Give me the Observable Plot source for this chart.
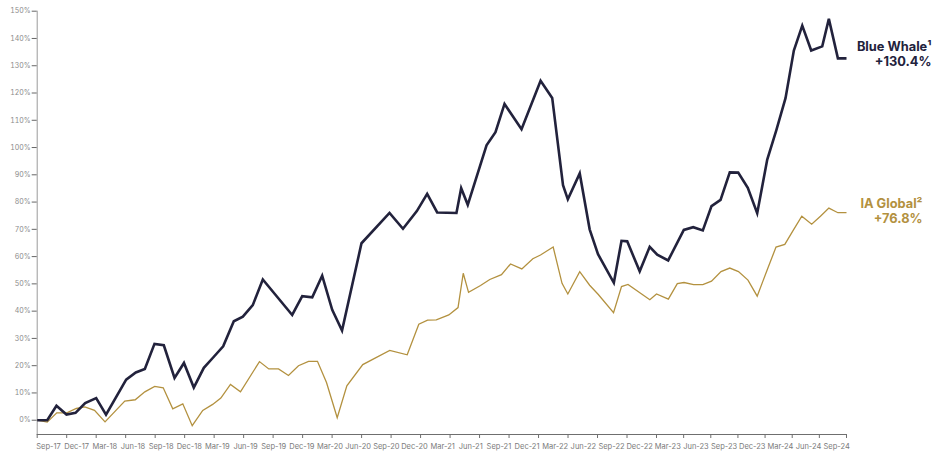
<!DOCTYPE html>
<html>
<head>
<meta charset="utf-8">
<script src="https://cdn.jsdelivr.net/npm/d3@7"></script>
<script src="https://cdn.jsdelivr.net/npm/@observablehq/plot@0.6"></script>
<style>
  html, body { margin: 0; padding: 0; background: #fff; overflow: hidden; }
  #chart svg { display: block; }
</style>
</head>
<body>
<div id="chart"></div>
<script>
// x tick labels (quarterly)
const tickLabels = ["Sep-17","Dec-17","Mar-18","Jun-18","Sep-18","Dec-18","Mar-19","Jun-19","Sep-19","Dec-19",
  "Mar-20","Jun-20","Sep-20","Dec-20","Mar-21","Jun-21","Sep-21","Dec-21","Mar-22","Jun-22",
  "Sep-22","Dec-22","Mar-23","Jun-23","Sep-23","Dec-23","Mar-24","Jun-24","Sep-24"];
// y ticks (%)
const yTicks = [0,10,20,30,40,50,60,70,80,90,100,110,120,130,140,150];

// series names and final returns
const seriesNames = ["Blue Whale¹", "IA Global²"];
const seriesReturns = ["+130.4%", "+76.8%"];

// Blue Whale: time in months since Sep-17, cumulative return (%)
const blueT = [0,1.02,1.96,2.98,3.90,4.88,6.00,7.00,9.05,10.03,10.95,11.93,12.88,13.97,14.93,15.93,16.95,17.90,18.92,20.00,
  20.92,21.93,22.95,25.94,26.96,27.98,28.99,30.01,31.01,32.99,35.84,37.21,38.62,39.67,40.69,42.65,43.13,43.80,45.71,46.62,
  47.54,49.27,51.21,52.39,53.49,53.98,55.19,56.20,57.05,58.66,59.44,60.02,61.29,62.31,63.08,64.29,66.02,67.06,68.12,69.08,
  70.08,71.10,72.03,73.09,74.13,75.24,76.23,77.26,78.18,79.11,80.10,81.32,82.05,83.05,84.00];
const blueV = [0,0,5.3,2.1,2.7,6.3,8.1,2.0,14.9,17.5,18.8,28.0,27.5,15.5,21.0,12.0,19.2,23.0,27.1,36.3,
  38.0,42.2,51.6,38.6,45.5,45.1,53.0,40.5,32.9,64.9,76.0,70.2,76.7,83.0,76.2,76.0,85.1,79.0,100.8,105.6,
  116.0,106.7,124.5,118.2,86.2,81.0,90.5,70.0,60.9,50.4,65.8,65.6,54.6,63.6,60.7,58.6,69.8,70.8,69.6,78.5,
  80.8,90.9,90.8,85.2,75.9,95.6,106.2,118.1,135.6,144.7,135.6,137.1,147.2,132.7,132.7];

// IA Global sector: time in months since Sep-17, cumulative return (%)
const goldT = [0,1.02,1.99,3.01,3.98,4.84,5.83,6.90,8.91,9.97,10.95,11.95,12.82,13.79,14.81,15.77,16.84,17.85,18.68,19.66,
  20.68,22.61,23.56,24.55,25.56,26.58,27.60,28.51,29.43,30.52,31.50,33.12,35.86,37.64,38.82,39.71,40.60,41.87,42.81,43.34,
  43.88,45.10,46.04,47.23,48.15,49.30,50.42,51.20,52.49,53.39,53.98,55.19,56.20,57.08,58.63,59.44,60.10,62.32,63.00,64.31,
  65.30,66.04,67.10,68.12,69.08,70.13,71.10,72.06,73.11,74.13,75.24,76.21,77.18,78.14,79.06,80.15,81.12,82.05,83.05,84.00];
const goldV = [0,-0.7,2.7,2.7,4.3,4.9,3.6,-0.6,7.0,7.5,10.4,12.4,11.9,4.2,6.0,-2.0,3.6,5.8,8.1,13.1,
  10.4,21.5,18.8,18.8,16.4,20.0,21.6,21.6,13.8,0.9,12.6,20.4,25.6,24.0,35.2,36.7,36.8,38.6,41.3,53.9,
  46.9,49.4,51.6,53.4,57.3,55.5,59.2,60.6,63.5,50.2,46.3,54.5,49.5,46.1,39.4,49.0,49.8,44.2,46.3,44.4,
  50.1,50.5,49.7,49.7,51.0,54.5,55.8,54.5,51.4,45.5,55.2,63.5,64.5,69.8,74.8,71.9,74.8,77.8,76.1,76.1];

const NAVY = "#22223c";
const GOLD = "#b3913f";

const blue = blueT.map((t, i) => ({t, v: blueV[i]}));
const gold = goldT.map((t, i) => ({t, v: goldV[i]}));

// layout
const W = 932, H = 454;
const xDomain = [0, 63, 84];          // piecewise: quarters are narrower after Dec-22
const xRange = [36.7, 656, 846];
const yMin = -5.24, yMax = 150;
const tickT = tickLabels.map((_, i) => 3 * i);
const xs = d3.scaleLinear(xDomain, xRange);
const labelT = tickLabels.map((_, i) => xs.invert(48 + 28.15 * i));

const chart = Plot.plot({
  width: W,
  height: H,
  marginLeft: 36.7,
  marginRight: W - 846,
  marginTop: 10.7,
  marginBottom: 20,
  style: {fontFamily: "Inter, sans-serif", background: "#fff"},
  x: {type: "linear", domain: xDomain, range: xRange, axis: null},
  y: {domain: [yMin, yMax], axis: null},
  marks: [
    Plot.ruleX([0], {y1: yMin, y2: yMax, stroke: "#9a9a9a", strokeWidth: 1}),
    Plot.ruleY([yMin], {x1: 0, x2: 84, stroke: "#6f6f6f", strokeWidth: 1}),
    Plot.axisY({ticks: yTicks, tickSize: 5, tickPadding: 1.5, tickFormat: d => `${d}%`,
      fontSize: 7, fill: "#8a8a8a", stroke: "#666", label: null}),
    Plot.axisX({ticks: tickT, tickSize: 4, tickFormat: () => "", stroke: "#6f6f6f", label: null}),
    Plot.text(tickLabels, {x: (d, i) => labelT[i], frameAnchor: "bottom", dy: 14.6,
      fontSize: 7.5, fill: "#7a7a7a"}),
    Plot.line(gold, {x: "t", y: "v", stroke: GOLD, strokeWidth: 1.3,
      strokeLinejoin: "miter", strokeMiterlimit: 4, strokeLinecap: "butt"}),
    Plot.line(blue, {x: "t", y: "v", stroke: NAVY, strokeWidth: 2.6,
      strokeLinejoin: "miter", strokeMiterlimit: 4, strokeLinecap: "butt"}),
    Plot.text([blue[blue.length - 1]], {x: "t", y: "v",
      text: () => `${seriesNames[0]}\n${seriesReturns[0]}`,
      textAnchor: "end", dx: 85, dy: -4.5, fontSize: 12.8, fontWeight: 700, lineHeight: 1.12,
      fill: NAVY}),
    Plot.text([gold[gold.length - 1]], {x: "t", y: "v",
      text: () => `${seriesNames[1]}\n${seriesReturns[1]}`,
      textAnchor: "end", dx: 76, dy: -1.7, fontSize: 12.8, fontWeight: 700, lineHeight: 1.17,
      fill: GOLD})
  ]
});
document.getElementById("chart").append(chart);
</script>
</body>
</html>
